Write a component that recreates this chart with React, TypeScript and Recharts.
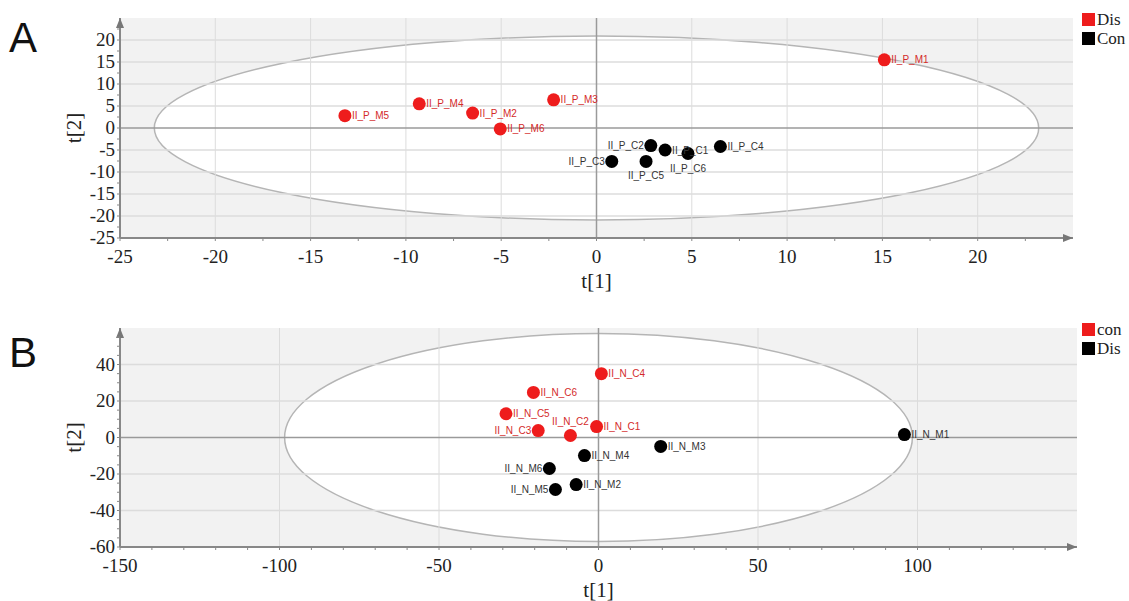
import React from 'react';
import {
  ScatterChart, Scatter, XAxis, YAxis, CartesianGrid, ReferenceArea, ReferenceLine,
  ReferenceDot, LabelList, Legend,
} from 'recharts';

// ---- panel A (positive mode) ----
const A_DIS = [
  { name: 'II_P_M1', x: 15.1, y: 15.5 },
  { name: 'II_P_M3', x: -2.25, y: 6.4 },
  { name: 'II_P_M4', x: -9.3, y: 5.5 },
  { name: 'II_P_M2', x: -6.5, y: 3.4 },
  { name: 'II_P_M5', x: -13.2, y: 2.8 },
  { name: 'II_P_M6', x: -5.05, y: -0.2 },
];
const A_CON = [
  { name: 'II_P_C2', x: 2.85, y: -4.0 },
  { name: 'II_P_C1', x: 3.6, y: -5.0 },
  { name: 'II_P_C4', x: 6.5, y: -4.2 },
  { name: 'II_P_C6', x: 4.8, y: -5.8 },
  { name: 'II_P_C3', x: 0.8, y: -7.6 },
  { name: 'II_P_C5', x: 2.6, y: -7.6 },
];
const A_X_MAJOR = [-25, -20, -15, -10, -5, 0, 5, 10, 15, 20];
const A_X_MINOR = [-22.5, -17.5, -12.5, -7.5, -2.5, 2.5, 7.5, 12.5, 17.5, 22.5];
const A_Y_MAJOR = [-25, -20, -15, -10, -5, 0, 5, 10, 15, 20];
const A_Y_MINOR = [-22.5, -17.5, -12.5, -7.5, -2.5, 2.5, 7.5, 12.5, 17.5, 22.5];
const A_ELLIPSE = { rx: 23.2, ry: 20.9 };

// ---- panel B (negative mode) ----
const B_CON = [
  { name: 'II_N_C4', x: 0.9, y: 35 },
  { name: 'II_N_C6', x: -20.4, y: 24.7 },
  { name: 'II_N_C5', x: -29, y: 13 },
  { name: 'II_N_C3', x: -18.9, y: 3.8 },
  { name: 'II_N_C2', x: -8.8, y: 1.1 },
  { name: 'II_N_C1', x: -0.6, y: 6 },
];
const B_DIS = [
  { name: 'II_N_M1', x: 95.9, y: 1.6 },
  { name: 'II_N_M3', x: 19.5, y: -4.9 },
  { name: 'II_N_M4', x: -4.4, y: -9.9 },
  { name: 'II_N_M6', x: -15.4, y: -17 },
  { name: 'II_N_M2', x: -7, y: -25.8 },
  { name: 'II_N_M5', x: -13.5, y: -28.5 },
];
const B_X_MAJOR = [-150, -100, -50, 0, 50, 100];
const B_X_MINOR = [-140, -130, -120, -110, -90, -80, -70, -60, -40, -30, -20, -10,
  10, 20, 30, 40, 60, 70, 80, 90, 110, 120, 130, 140];
const B_Y_MAJOR = [-60, -40, -20, 0, 20, 40];
const B_Y_MINOR = [-55, -50, -45, -35, -30, -25, -15, -10, -5, 5, 10, 15, 25, 30, 35, 45, 50, 55];
const B_ELLIPSE = { rx: 98.4, ry: 57 };

// label placement that differs from the default "right"
const LABEL_SIDE: Record<string, 'left' | 'below' | 'above'> = {
  II_P_C2: 'left', II_P_C3: 'left', II_P_C5: 'below', II_P_C6: 'below',
  II_N_C3: 'left', II_N_C2: 'above', II_N_M6: 'left', II_N_M5: 'left',
};

const RED = '#ee1c1c';
const BLACK = '#000000';
const SERIF = '"Liberation Serif", "Times New Roman", serif';
const SANS = '"Liberation Sans", Arial, sans-serif';

const makeTick = (majors: number[], side: 'x' | 'y') => (props: any) => {
  const { x, y, payload } = props;
  const v = payload.value;
  const major = majors.some((m) => Math.abs(m - v) < 1e-6);
  if (side === 'x') {
    return (
      <g>
        <line x1={x} x2={x} y1={y} y2={y + 3} stroke="#888" strokeWidth={1} />
        {major && (
          <text x={x} y={y + 25} textAnchor="middle" style={{ fontFamily: SERIF }} fontSize={19} fill="#222">
            {v}
          </text>
        )}
      </g>
    );
  }
  return (
    <g>
      <line x1={x - 3} x2={x} y1={y} y2={y} stroke="#888" strokeWidth={1} />
      {major && (
        <text x={x - 5} y={y + 6} textAnchor="end" style={{ fontFamily: SERIF }} fontSize={19} fill="#222">
          {v}
        </text>
      )}
    </g>
  );
};

const pointLabel = (color: string) => (props: any) => {
  const { x, y, width, height, value } = props;
  const cx = x + width / 2;
  const cy = y + height / 2;
  const side = LABEL_SIDE[value] || 'right';
  let tx = cx + 7;
  let ty = cy + 3.5;
  let anchor: 'start' | 'end' | 'middle' = 'start';
  if (side === 'left') { tx = cx - 7; anchor = 'end'; }
  if (side === 'below') { tx = cx; ty = cy + 18; anchor = 'middle'; }
  if (side === 'above') { tx = cx; ty = cy - 10; anchor = 'middle'; }
  return (
    <text x={tx} y={ty} textAnchor={anchor} fontFamily={SANS} fontSize={10} fill={color}>
      {value}
    </text>
  );
};

const ellipseShape = (props: any) => {
  const { x, y, width, height } = props;
  return (
    <ellipse
      cx={x + width / 2} cy={y + height / 2} rx={width / 2} ry={height / 2}
      fill="#ffffff" stroke="#b5b5b5" strokeWidth={1.5}
    />
  );
};

const arrowRight = (props: any) => {
  const { cx, cy } = props;
  return <path d={`M${cx - 10},${cy - 4} L${cx},${cy} L${cx - 10},${cy + 4} Z`} fill="#777" />;
};
const arrowUp = (props: any) => {
  const { cx, cy } = props;
  return <path d={`M${cx - 4},${cy + 10} L${cx},${cy} L${cx + 4},${cy + 10} Z`} fill="#777" />;
};

// legend keeps the series order instead of the library's sorting
const makeLegend = (order: string[]) => (props: any) => {
  const items = [...(props.payload || [])].sort(
    (a: any, b: any) => order.indexOf(a.value) - order.indexOf(b.value),
  );
  return (
    <div>
      {items.map((item: any) => (
        <div key={item.value} style={{ display: 'flex', alignItems: 'center', height: 19 }}>
          <span style={{ width: 13, height: 13, background: item.color, display: 'inline-block', marginRight: 2 }} />
          <span style={{ fontFamily: SERIF, fontSize: 17, color: '#222', lineHeight: '17px' }}>{item.value}</span>
        </div>
      ))}
    </div>
  );
};

interface PanelProps {
  top: number;
  height: number;
  margin: { top: number; right: number; bottom: number; left: number };
  xDomain: [number, number];
  yDomain: [number, number];
  xMajor: number[];
  xMinor: number[];
  yMajor: number[];
  yMinor: number[];
  ellipse: { rx: number; ry: number };
  series: { name: string; color: string; data: { name: string; x: number; y: number }[] }[];
  legendTop: number;
}

function Panel(p: PanelProps) {
  const xTicks = [...p.xMajor, ...p.xMinor].sort((a, b) => a - b);
  const yTicks = [...p.yMajor, ...p.yMinor].sort((a, b) => a - b);
  const xGrid = p.xMajor.filter((v) => v !== 0 && v !== p.xDomain[0]);
  const yGrid = p.yMajor.filter((v) => v !== 0 && v !== p.yDomain[0]);
  return (
    <div style={{ position: 'absolute', left: 0, top: p.top }}>
      <ScatterChart width={1129} height={p.height} margin={p.margin}>
        <CartesianGrid fill="#f2f2f2" horizontal={false} vertical={false} />
        <ReferenceArea
          x1={-p.ellipse.rx} x2={p.ellipse.rx} y1={-p.ellipse.ry} y2={p.ellipse.ry}
          shape={ellipseShape} ifOverflow="visible"
        />
        {xGrid.map((v) => (
          <ReferenceLine key={`gx${v}`} x={v} stroke="#dcdcdc" strokeWidth={1} />
        ))}
        {yGrid.map((v) => (
          <ReferenceLine key={`gy${v}`} y={v} stroke="#dcdcdc" strokeWidth={1.5} />
        ))}
        <ReferenceLine x={0} stroke="#9a9a9a" strokeWidth={1.5} />
        <ReferenceLine y={0} stroke="#9a9a9a" strokeWidth={1.5} />
        <XAxis
          type="number" dataKey="x" domain={p.xDomain} ticks={xTicks} interval={0}
          allowDataOverflow tickSize={0} tickMargin={0} tick={makeTick(p.xMajor, 'x')}
          axisLine={{ stroke: '#888', strokeWidth: 2 }} height={30}
          label={{ value: 't[1]', position: 'bottom', offset: 5, style: { fontFamily: SERIF, fontSize: 21, fill: '#222' } }}
        />
        <YAxis
          type="number" dataKey="y" domain={p.yDomain} ticks={yTicks} interval={0}
          allowDataOverflow tickSize={0} tickMargin={0} tick={makeTick(p.yMajor, 'y')}
          axisLine={{ stroke: '#888', strokeWidth: 2 }} width={60}
          label={{ value: 't[2]', angle: -90, position: 'insideLeft', offset: 14, style: { textAnchor: 'middle', fontFamily: SERIF, fontSize: 21, fill: '#222' } }}
        />
        <ReferenceDot x={p.xDomain[1]} y={p.yDomain[0]} shape={arrowRight} ifOverflow="visible" />
        <ReferenceDot x={p.xDomain[0]} y={p.yDomain[1]} shape={arrowUp} ifOverflow="visible" />
        {p.series.map((s) => (
          <Scatter key={s.name} name={s.name} data={s.data} fill={s.color} isAnimationActive={false}
            shape={(sp: any) => <circle cx={sp.cx} cy={sp.cy} r={6.5} fill={s.color} />}>
            <LabelList dataKey="name" content={pointLabel(s.color === RED ? '#d42a2a' : '#333')} />
          </Scatter>
        ))}
        <Legend
          layout="vertical" align="center" verticalAlign="middle"
          content={makeLegend(p.series.map((s) => s.name))}
          wrapperStyle={{ position: 'absolute', top: p.legendTop, left: 1082, width: 50, height: 40 }}
        />
      </ScatterChart>
    </div>
  );
}

export default function App() {
  return (
    <div style={{ position: 'absolute', left: 0, top: 0, width: 1129, height: 601, background: '#fff' }}>
      <Panel
        top={0} height={300}
        margin={{ top: 18, right: 56, bottom: 32, left: 60 }}
        xDomain={[-25, 25]} yDomain={[-25, 25]}
        xMajor={A_X_MAJOR} xMinor={A_X_MINOR} yMajor={A_Y_MAJOR} yMinor={A_Y_MINOR}
        ellipse={A_ELLIPSE}
        series={[
          { name: 'Dis', color: RED, data: A_DIS },
          { name: 'Con', color: BLACK, data: A_CON },
        ]}
        legendTop={10}
      />
      <Panel
        top={300} height={301}
        margin={{ top: 28, right: 52, bottom: 24, left: 60 }}
        xDomain={[-150, 150]} yDomain={[-60, 60]}
        xMajor={B_X_MAJOR} xMinor={B_X_MINOR} yMajor={B_Y_MAJOR} yMinor={B_Y_MINOR}
        ellipse={B_ELLIPSE}
        series={[
          { name: 'con', color: RED, data: B_CON },
          { name: 'Dis', color: BLACK, data: B_DIS },
        ]}
        legendTop={20}
      />
      <div style={{ position: 'absolute', left: 9, top: 14, fontFamily: SANS, fontSize: 42, color: '#111' }}>A</div>
      <div style={{ position: 'absolute', left: 9, top: 329, fontFamily: SANS, fontSize: 42, color: '#111' }}>B</div>
    </div>
  );
}
